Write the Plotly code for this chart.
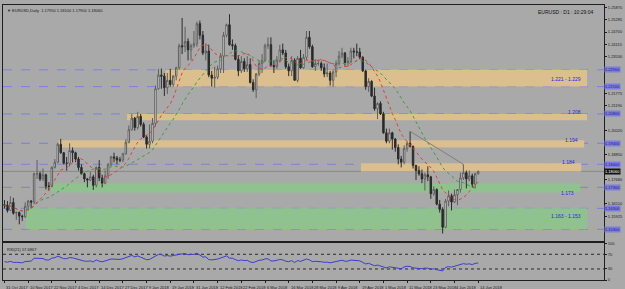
import numpy as np
import pandas as pd
import plotly.graph_objects as go

# ---------------- data ----------------
holidays = ["2017-12-25", "2018-01-01"]
dates = [d for d in pd.bdate_range("2017-10-31", "2018-06-14") if d.strftime("%Y-%m-%d") not in holidays]

opens = [1.1647,1.1645,1.1620,1.1658,1.1607,1.1610,1.1593,1.1590,1.1640,1.1665,
1.1660,1.1795,1.1795,1.1770,1.1790,1.1735,1.1735,1.1825,1.1850,1.1935,
1.1895,1.1845,1.1845,1.1905,1.1895,1.1865,1.1825,1.1795,1.1770,1.1765,
1.1780,1.1740,1.1825,1.1775,1.1750,1.1785,1.1840,1.1875,1.1870,1.1860,
1.1860,1.1890,1.1945,1.2005,1.2060,1.2015,1.2068,1.2030,1.1970,1.1935,
1.1950,1.2035,1.2200,1.2265,1.2260,1.2205,1.2240,1.2220,1.2260,1.2300,
1.2405,1.2400,1.2425,1.2385,1.2405,1.2415,1.2510,1.2455,1.2370,1.2380,
1.2265,1.2250,1.2255,1.2295,1.2355,1.2455,1.2505,1.2410,1.2405,1.2340,
1.2285,1.2330,1.2295,1.2315,1.2230,1.2195,1.2270,1.2320,1.2335,1.2405,
1.2410,1.2310,1.2305,1.2335,1.2385,1.2370,1.2305,1.2285,1.2335,1.2240,
1.2345,1.2300,1.2350,1.2445,1.2400,1.2305,1.2320,1.2320,1.2300,1.2270,
1.2275,1.2240,1.2280,1.2320,1.2355,1.2370,1.2325,1.2330,1.2380,1.2375,
1.2375,1.2350,1.2285,1.2210,1.2235,1.2165,1.2105,1.2130,1.2080,1.1990,
1.1950,1.1990,1.1960,1.1920,1.1865,1.1850,1.1915,1.1940,1.1925,1.1835,
1.1810,1.1795,1.1770,1.1790,1.1780,1.1700,1.1720,1.1650,1.1625,1.1540,
1.1665,1.1690,1.1660,1.1695,1.1720,1.1775,1.1800,1.1770,1.1785,1.1745,
1.1795]

highs = [1.1670,1.1665,1.1688,1.1680,1.1615,1.1615,1.1600,1.1658,1.1670,1.1670,
1.1800,1.1861,1.1805,1.1820,1.1795,1.1755,1.1830,1.1865,1.1940,1.1961,
1.1898,1.1875,1.1940,1.1920,1.1900,1.1875,1.1840,1.1800,1.1775,1.1805,
1.1790,1.1830,1.1860,1.1790,1.1810,1.1845,1.1880,1.1895,1.1880,1.1875,
1.1895,1.1960,1.2025,1.2080,1.2065,1.2090,1.2080,1.2040,1.1980,1.2030,
1.2060,1.2215,1.2295,1.2296,1.2275,1.2275,1.2295,1.2265,1.2305,1.2415,
1.2537,1.2495,1.2440,1.2415,1.2475,1.2520,1.2525,1.2475,1.2415,1.2410,
1.2285,1.2305,1.2310,1.2370,1.2470,1.2510,1.2555,1.2435,1.2415,1.2360,
1.2355,1.2345,1.2355,1.2345,1.2245,1.2275,1.2335,1.2365,1.2415,1.2445,
1.2445,1.2335,1.2355,1.2410,1.2415,1.2385,1.2320,1.2355,1.2345,1.2355,
1.2385,1.2365,1.2475,1.2475,1.2410,1.2340,1.2335,1.2330,1.2320,1.2320,
1.2285,1.2290,1.2335,1.2380,1.2395,1.2375,1.2350,1.2395,1.2395,1.2415,
1.2395,1.2355,1.2290,1.2250,1.2240,1.2205,1.2135,1.2140,1.2090,1.2010,
1.2010,1.1995,1.1965,1.1935,1.1880,1.1930,1.1950,1.1997,1.1930,1.1835,
1.1830,1.1815,1.1800,1.1830,1.1785,1.1735,1.1725,1.1670,1.1635,1.1675,
1.1715,1.1700,1.1720,1.1720,1.1800,1.1840,1.1810,1.1810,1.1795,1.1800,
1.1810]

lows = [1.1630,1.1610,1.1620,1.1600,1.1575,1.1554,1.1570,1.1585,1.1620,1.1630,
1.1650,1.1770,1.1760,1.1760,1.1720,1.1715,1.1730,1.1820,1.1845,1.1890,
1.1840,1.1810,1.1830,1.1850,1.1850,1.1810,1.1790,1.1755,1.1730,1.1760,
1.1718,1.1730,1.1760,1.1730,1.1745,1.1770,1.1830,1.1850,1.1840,1.1850,
1.1850,1.1885,1.1940,1.2000,1.2000,1.2005,1.2020,1.1965,1.1915,1.1915,
1.1940,1.2020,1.2195,1.2200,1.2165,1.2175,1.2210,1.2210,1.2240,1.2290,
1.2365,1.2375,1.2335,1.2335,1.2395,1.2400,1.2435,1.2360,1.2335,1.2255,
1.2210,1.2205,1.2245,1.2275,1.2275,1.2445,1.2405,1.2385,1.2335,1.2260,
1.2275,1.2280,1.2280,1.2225,1.2185,1.2155,1.2260,1.2275,1.2330,1.2390,
1.2305,1.2275,1.2295,1.2325,1.2360,1.2295,1.2260,1.2260,1.2240,1.2230,
1.2295,1.2295,1.2335,1.2390,1.2300,1.2285,1.2310,1.2285,1.2255,1.2255,
1.2215,1.2210,1.2255,1.2310,1.2345,1.2310,1.2305,1.2325,1.2345,1.2355,
1.2340,1.2280,1.2195,1.2185,1.2160,1.2095,1.2055,1.2075,1.1985,1.1940,
1.1940,1.1910,1.1900,1.1840,1.1825,1.1840,1.1900,1.1920,1.1820,1.1765,
1.1785,1.1750,1.1715,1.1760,1.1675,1.1690,1.1645,1.1610,1.1510,1.1535,
1.1640,1.1620,1.1655,1.1645,1.1705,1.1765,1.1725,1.1760,1.1730,1.1725,
1.1790]

closes = [1.1645,1.1620,1.1658,1.1607,1.1610,1.1593,1.1590,1.1640,1.1665,1.1660,
1.1795,1.1795,1.1770,1.1790,1.1735,1.1735,1.1825,1.1850,1.1935,1.1895,
1.1845,1.1845,1.1905,1.1895,1.1865,1.1825,1.1795,1.1770,1.1765,1.1780,
1.1740,1.1825,1.1775,1.1750,1.1785,1.1840,1.1875,1.1870,1.1860,1.1860,
1.1890,1.1945,1.2005,1.2060,1.2015,1.2068,1.2030,1.1970,1.1935,1.1950,
1.2035,1.2200,1.2265,1.2260,1.2205,1.2240,1.2220,1.2260,1.2300,1.2405,
1.2400,1.2425,1.2385,1.2405,1.2415,1.2510,1.2455,1.2370,1.2380,1.2265,
1.2250,1.2255,1.2295,1.2355,1.2455,1.2505,1.2410,1.2405,1.2340,1.2285,
1.2330,1.2295,1.2315,1.2230,1.2195,1.2270,1.2320,1.2335,1.2405,1.2410,
1.2310,1.2305,1.2335,1.2385,1.2370,1.2305,1.2285,1.2335,1.2240,1.2345,
1.2300,1.2350,1.2445,1.2400,1.2305,1.2320,1.2320,1.2300,1.2270,1.2275,
1.2240,1.2280,1.2320,1.2355,1.2370,1.2325,1.2330,1.2380,1.2375,1.2375,
1.2350,1.2285,1.2210,1.2235,1.2165,1.2105,1.2130,1.2080,1.1990,1.1950,
1.1990,1.1960,1.1920,1.1865,1.1850,1.1915,1.1940,1.1925,1.1835,1.1810,
1.1795,1.1770,1.1790,1.1780,1.1700,1.1720,1.1650,1.1625,1.1540,1.1665,
1.1690,1.1660,1.1695,1.1720,1.1775,1.1800,1.1770,1.1785,1.1745,1.1795,
1.1806]

# support / resistance zones
zone_lo = [1.2210, 1.2050, 1.1920, 1.1805, 1.1705, 1.1530]
zone_hi = [1.2290, 1.2080, 1.1955, 1.1845, 1.1750, 1.1630]
zone_from_bar = [54.4, 41.4, 18.3, 120.4, 15.6, 7.2]
zone_to_bar = [196.8, 196.8, 195.8, 194.8, 194.5, 196.8]
zone_type = ["res", "res", "res", "res", "sup", "sup"]
zone_text = ["1.221 - 1.229", "1.208", "1.194", "1.184", "1.173", "1.163 - 1.153"]
zone_text_price = [1.2245, 1.2088, 1.1956, 1.1852, 1.1703, 1.1595]

level_lines = [1.229, 1.221, 1.208, 1.194, 1.184, 1.173, 1.163, 1.153]
trend_bars = [137, 155]

price_ticks = [1.25870, 1.25285, 1.24700, 1.24115, 1.23530, 1.21775,
               1.21190, 1.20020, 1.18850, 1.17680,
               1.16510, 1.15925]
rsi_ticks = [0, 30, 70, 100]
rsi_label = "RSI(21) 57.6867"
clock_label = "EURUSD : D1 : 10:29:04"

# ---------------- derived indicators ----------------
n = len(closes)
idx = list(range(n))
cs = pd.Series(closes)
ma_fast = cs.rolling(10, min_periods=1).mean()
ma_slow = cs.rolling(21, min_periods=1).mean()

diff = np.diff(np.array(closes))
gains = np.maximum(diff, 0)
losses = np.maximum(-diff, 0)
P = 21
ag = al = np.mean(np.abs(diff)) / 2
rsi = [100 - 100 / (1 + ag / al)]
for g, l in zip(gains, losses):
    ag = (ag * (P - 1) + g) / P
    al = (al * (P - 1) + l) / P
    rsi.append(100 - 100 / (1 + ag / al))

# ---------------- styling ----------------
BG = "#a9a9a9"
FRAME = "#1e1e1e"
LVL = "#7f7fdc"
ORANGE = "#dcbf8e"
GREEN = "#8fc28f"
FONT = "Liberation Sans"

X_RANGE = [-0.5, 202.5]
Y_RANGE = [1.14731, 1.25989]
MAIN_DOM = [0.1408, 1.0]
RSI_DOM = [0.0, 0.1336]

fig = go.Figure()

fig.add_trace(go.Candlestick(
    x=idx, open=opens, high=highs, low=lows, close=closes,
    increasing=dict(line=dict(color="#5e5e5e", width=1), fillcolor="#f4f4f4"),
    decreasing=dict(line=dict(color="#2b2b2b", width=1), fillcolor="#2b2b2b"),
    whiskerwidth=0, xaxis="x", yaxis="y", hoverinfo="skip", showlegend=False))

fig.add_trace(go.Scatter(x=idx, y=ma_slow, mode="lines",
                         line=dict(color="#3f9a3f", width=1, dash="dot"),
                         xaxis="x", yaxis="y", showlegend=False, hoverinfo="skip"))
fig.add_trace(go.Scatter(x=idx, y=ma_fast, mode="lines",
                         line=dict(color="#e23c3c", width=1, dash="dot"),
                         xaxis="x", yaxis="y", showlegend=False, hoverinfo="skip"))
fig.add_trace(go.Scatter(x=trend_bars, y=[highs[trend_bars[0]], highs[trend_bars[1]]],
                         mode="lines", line=dict(color="#808080", width=1),
                         xaxis="x", yaxis="y", showlegend=False, hoverinfo="skip"))

fig.add_trace(go.Scatter(x=idx, y=rsi, mode="lines",
                         line=dict(color="#3c3cd2", width=1),
                         xaxis="x2", yaxis="y2", showlegend=False, hoverinfo="skip"))

shapes = []
for lo, hi, a, b, t in zip(zone_lo, zone_hi, zone_from_bar, zone_to_bar, zone_type):
    shapes.append(dict(type="rect", xref="x", yref="y", x0=a, x1=b, y0=lo, y1=hi,
                       fillcolor=ORANGE if t == "res" else GREEN, line=dict(width=0), layer="below"))
for lv in level_lines:
    shapes.append(dict(type="line", xref="paper", yref="y", x0=0, x1=1, y0=lv, y1=lv,
                       line=dict(color=LVL, width=1, dash="dash"), layer="below"))
shapes.append(dict(type="line", xref="paper", yref="y", x0=0, x1=1, y0=closes[-1], y1=closes[-1],
                   line=dict(color="#8a8a8a", width=1), layer="below"))
for lv in (30, 70):
    shapes.append(dict(type="line", xref="paper", yref="y2", x0=0, x1=1, y0=lv, y1=lv,
                       line=dict(color="#2a2a2a", width=1, dash="dot"), layer="below"))

ann = []
for txt, p, a, b in zip(zone_text, zone_text_price, zone_from_bar, zone_to_bar):
    ann.append(dict(x=b - 1.5, y=p, xref="x", yref="y", text=txt, showarrow=False,
                    xanchor="right", yanchor="middle",
                    font=dict(family=FONT, size=5, color="#2323f0")))
# highlighted price labels on the right scale
for lv in level_lines:
    ann.append(dict(x=1.0, y=lv, xref="paper", yref="y", text=f"{lv:.5f}", showarrow=False,
                    xanchor="left", yanchor="middle", bgcolor="#7c7ce6", borderpad=0,
                    font=dict(family=FONT, size=4, color="#1c1c5a")))
ann.append(dict(x=1.0, y=closes[-1], xref="paper", yref="y", text=f"{closes[-1]:.5f}",
                showarrow=False, xanchor="left", yanchor="middle", bgcolor="#111111",
                borderpad=0, font=dict(family=FONT, size=4, color="#ffffff")))
# date labels
for i in range(0, n, 8):
    ann.append(dict(x=i, y=-0.012, xref="x2", yref="paper", text=f"{dates[i].day} {dates[i].strftime('%b %Y')}",
                    showarrow=False, xanchor="left", yanchor="top",
                    font=dict(family=FONT, size=4, color="#1a1a1a")))
header = f"▼ EURUSD,Daily  {opens[-1]:.5f} {highs[-1]:.5f} {lows[-1]:.5f} {closes[-1]:.5f}"
ann.append(dict(x=0.004, y=0.997, xref="paper", yref="paper", text=header, showarrow=False,
                xanchor="left", yanchor="top", font=dict(family=FONT, size=4, color="#1a1a1a")))
ann.append(dict(x=0.987, y=0.975, xref="paper", yref="paper", text=clock_label, showarrow=False,
                xanchor="right", yanchor="middle", font=dict(family=FONT, size=5, color="#111111")))
ann.append(dict(x=0.003, y=RSI_DOM[1] - 0.006, xref="paper", yref="paper", text=rsi_label,
                showarrow=False, xanchor="left", yanchor="top",
                font=dict(family=FONT, size=4, color="#1a1a1a")))

axis_common = dict(showgrid=False, zeroline=False, showline=True, mirror=True,
                   linecolor=FRAME, linewidth=1)

fig.update_layout(
    width=625, height=289,
    margin=dict(l=2, r=17, t=3, b=9),
    paper_bgcolor=BG, plot_bgcolor=BG,
    showlegend=False,
    xaxis=dict(domain=[0, 1], range=X_RANGE, anchor="y", showticklabels=False,
               rangeslider=dict(visible=False), ticks="", **axis_common),
    yaxis=dict(domain=MAIN_DOM, range=Y_RANGE, anchor="x", side="right",
               tickvals=price_ticks, ticktext=[f"{v:.5f}" for v in price_ticks],
               ticks="outside", ticklen=2, tickcolor=FRAME,
               tickfont=dict(family=FONT, size=4, color="#1a1a1a"), **axis_common),
    xaxis2=dict(domain=[0, 1], range=X_RANGE, anchor="y2", showticklabels=False,
                tickvals=list(range(0, n, 8)), ticks="outside", ticklen=2, tickcolor=FRAME,
                **axis_common),
    yaxis2=dict(domain=RSI_DOM, range=[0, 100], anchor="x2", side="right",
                tickvals=rsi_ticks, ticktext=[str(v) for v in rsi_ticks],
                ticks="outside", ticklen=2, tickcolor=FRAME,
                tickfont=dict(family=FONT, size=4, color="#1a1a1a"), **axis_common),
    shapes=shapes, annotations=ann,
)

fig.write_html("out.html")
